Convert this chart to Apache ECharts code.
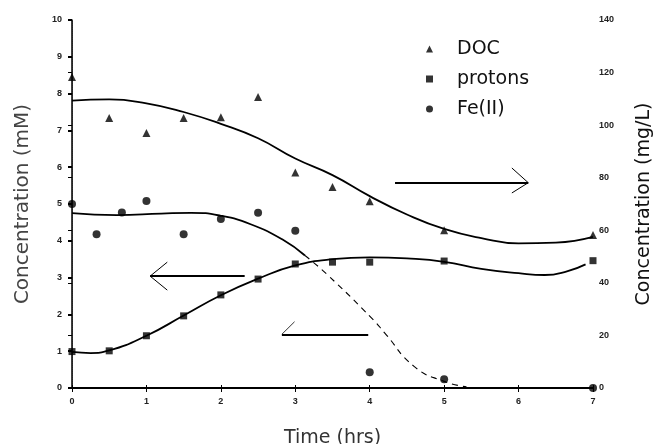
<!DOCTYPE html>
<html>
<head>
<meta charset="utf-8">
<script src="https://cdn.jsdelivr.net/npm/echarts@6/dist/echarts.min.js"></script>
<style>
html,body{margin:0;padding:0;background:#fff;overflow:hidden;}
#chart{width:662px;height:444px;}
</style>
</head>
<body>
<div id="chart"></div>
<script>
// ---- data ----
const xTicks = [0, 1, 2, 3, 4, 5, 6, 7];            // Time (hrs)
const leftTicks = [0, 1, 2, 3, 4, 5, 6, 7, 8, 9, 10]; // mM
const rightTicks = [0, 20, 40, 60, 80, 100, 120, 140]; // mg/L

// DOC (mg/L, right axis)
const docPoints = [[0,118.3],[0.5,102.7],[1,97],[1.5,102.7],[2,103],[2.5,110.7],[3,82],[3.5,76.5],[4,71],[5,60],[7,58.2]];
// protons (mM, left axis)
const protonPoints = [[0,0.99],[0.5,1.01],[1,1.42],[1.5,1.96],[2,2.53],[2.5,2.96],[3,3.37],[3.5,3.42],[4,3.42],[5,3.45],[7,3.46]];
// Fe(II) (mM, left axis)
const fePoints = [[0,5.0],[0.33,4.18],[0.67,4.77],[1,5.08],[1.5,4.18],[2,4.59],[2.5,4.76],[3,4.27],[4,0.43],[5,0.24],[7,0]];

// fitted curves
const docCurve = [[0,109.3],[0.5,109.8],[1,108.3],[1.5,105],[2,100.5],[2.5,95],[3,87.3],[3.5,81],[4,73],[4.5,66],[5,60.5],[5.5,57],[6,55],[6.5,55.3],[7,57.5]];
const protonCurve = [[0,0.98],[0.25,0.95],[0.5,1.02],[1,1.42],[1.5,1.97],[2,2.52],[2.5,2.97],[3,3.33],[3.5,3.5],[4,3.55],[4.5,3.52],[5,3.43],[5.5,3.24],[6,3.12],[6.35,3.07],[6.65,3.17],[6.9,3.36]];
const feCurveSolid = [[0,4.75],[0.6,4.7],[1.2,4.74],[1.6,4.76],[2,4.68],[2.4,4.45],[2.84,4.02],[3.13,3.6]];
const feCurveDashed = [[3.13,3.6],[3.42,3.1],[4.05,1.85],[4.2,1.5],[4.6,0.58],[5,0.18],[5.3,0.03]];

// annotation arrows (data coordinates)
const arrowRight = [[4.34,78.1],[6.13,78.1]];       // right axis
const arrowRightHead = [[6.13,78.1],[5.91,83.7],[5.91,74.2]];
const arrowLeft = [[2.32,3.04],[1.05,3.04]];        // left axis
const arrowLeftHead = [[1.05,3.04],[1.28,3.42],[1.28,2.66]];
const arrowBottom = [[2.82,1.46],[3.98,1.46]];
const arrowBottomHead = [[2.82,1.46],[2.99,1.8]];

const seg = (a,b,w)=>[{coord:a, lineStyle:{width:w}},{coord:b}];

const chart = echarts.init(document.getElementById('chart'));
const tickFont = {fontSize:9, fontWeight:'bold', color:'#222', fontFamily:'Liberation Sans, Arial, sans-serif'};

chart.setOption({
  animation:false,
  backgroundColor:'#fff',
  grid:{left:72, right:69, top:20, bottom:56, containLabel:false, outerBoundsMode:'none'},
  legend:{
    data:['DOC','protons','Fe(II)'],
    orient:'vertical', left:426, top:39,
    itemWidth:7, itemHeight:7, itemGap:10, padding:0,
    textStyle:{fontSize:19, lineHeight:20, color:'#111', fontFamily:'DejaVu Sans, sans-serif', padding:[0,0,0,19]}
  },
  xAxis:[{
    type:'value', min:0, max:7, interval:1, position:'bottom',
    axisLine:{lineStyle:{color:'#000', width:2}},
    axisTick:{inside:true, length:3, lineStyle:{color:'#000'}},
    axisLabel:Object.assign({margin:9}, tickFont),
    splitLine:{show:false},
    name:'Time (hrs)', nameLocation:'middle', nameGap:41,
    nameTextStyle:{fontSize:19, color:'#333', fontFamily:'DejaVu Sans, sans-serif'}
  },{
    type:'value', min:0, max:7, interval:1, position:'top',
    axisLine:{lineStyle:{color:'#000', width:1.5}},
    axisTick:{inside:true, length:4, lineStyle:{color:'#000'}},
    axisLabel:{show:false}, splitLine:{show:false}
  }],
  yAxis:[{
    type:'value', min:0, max:10, interval:1, position:'left',
    axisLine:{show:true, lineStyle:{color:'#888', width:1, type:'dotted'}},
    axisTick:{show:true, length:4, lineStyle:{color:'#000', width:2}},
    axisLabel:Object.assign({margin:10}, tickFont),
    splitLine:{show:false},
    name:'Concentration (mM)', nameLocation:'middle', nameGap:39, nameRotate:90,
    nameTextStyle:{fontSize:20, color:'#444', fontFamily:'DejaVu Sans, sans-serif'}
  },{
    type:'value', min:0, max:140, interval:20, position:'right',
    axisLine:{show:true, lineStyle:{color:'#000', width:1.5}},
    axisTick:{show:true, inside:true, length:4, lineStyle:{color:'#000'}},
    axisLabel:Object.assign({margin:6}, tickFont),
    splitLine:{show:false},
    name:'Concentration (mg/L)', nameLocation:'middle', nameGap:42, nameRotate:90,
    nameTextStyle:{fontSize:19, color:'#111', fontFamily:'DejaVu Sans, sans-serif'}
  }],
  series:[
    {name:'DOC', type:'scatter', yAxisIndex:1, data:docPoints, symbol:'triangle', symbolSize:8,
     itemStyle:{color:'#000'}, z:5,
     markLine:{silent:true, symbol:'none', label:{show:false}, lineStyle:{color:'#000', type:'solid', width:2},
       data:[seg(arrowRight[0],arrowRight[1],2), seg(arrowRightHead[0],arrowRightHead[1],1), seg(arrowRightHead[0],arrowRightHead[2],1)]}},
    {name:'protons', type:'scatter', data:protonPoints, symbol:'rect', symbolSize:7,
     itemStyle:{color:'#000'}, z:5,
     markLine:{silent:true, symbol:'none', label:{show:false}, lineStyle:{color:'#000', type:'solid', width:2},
       data:[seg(arrowLeft[0],arrowLeft[1],2), seg(arrowLeftHead[0],arrowLeftHead[1],1), seg(arrowLeftHead[0],arrowLeftHead[2],1)]}},
    {name:'Fe(II)', type:'scatter', data:fePoints, symbol:'circle', symbolSize:8,
     itemStyle:{color:'#000'}, z:5, clip:false,
     markLine:{silent:true, symbol:'none', label:{show:false}, lineStyle:{color:'#000', type:'solid', width:2},
       data:[seg(arrowBottom[0],arrowBottom[1],2), seg(arrowBottomHead[0],arrowBottomHead[1],0.8)]}},
    {type:'line', yAxisIndex:1, data:docCurve, smooth:0.5, showSymbol:false, lineStyle:{color:'#000', width:1.8}, silent:true},
    {type:'line', data:protonCurve, smooth:0.5, showSymbol:false, lineStyle:{color:'#000', width:1.8}, silent:true},
    {type:'line', data:feCurveSolid, smooth:0.5, showSymbol:false, lineStyle:{color:'#000', width:1.8}, silent:true},
    {type:'line', data:feCurveDashed, smooth:0.5, showSymbol:false, lineStyle:{color:'#000', width:1.1, type:[6,5]}, silent:true}
  ]
});
</script>
</body>
</html>
